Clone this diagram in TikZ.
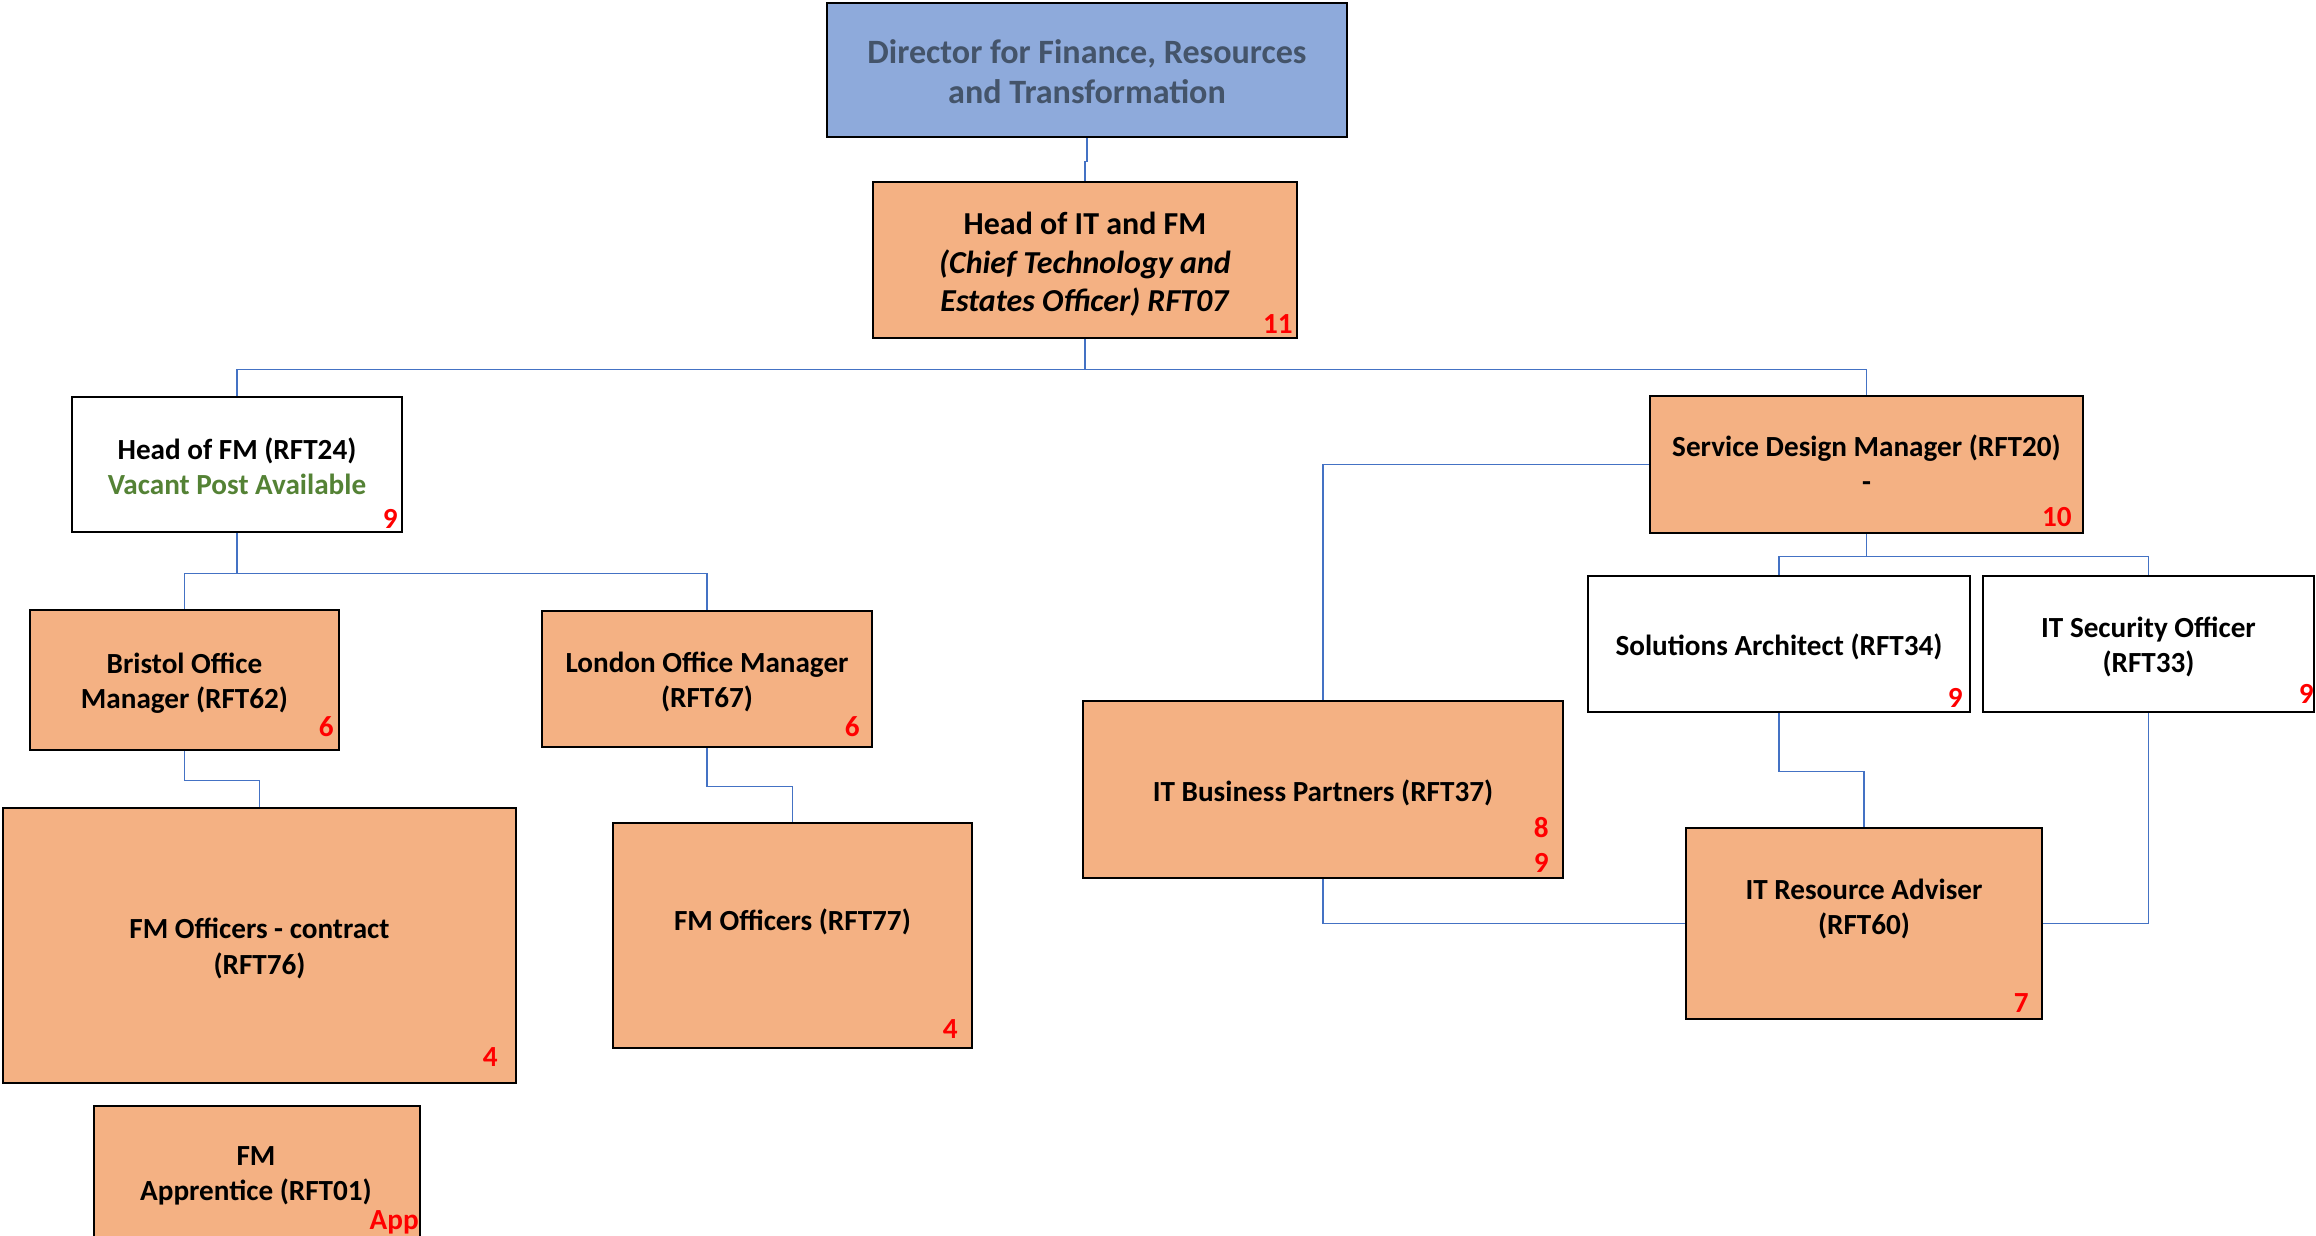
\documentclass[tikz,border=0pt]{standalone}
\usepackage{fontspec}
\setmainfont{Carlito}
\definecolor{postfill}{HTML}{F4B183}
\definecolor{dirfill}{HTML}{8EAADB}
\definecolor{dirtext}{HTML}{44546A}
\definecolor{vacgreen}{HTML}{548235}
\definecolor{linkblue}{HTML}{4472C4}
\newcommand{\postfont}{\fontsize{8.3}{10}\selectfont\bfseries}
\newcommand{\headfont}{\fontsize{9.1}{11}\selectfont\bfseries}
\newcommand{\dirfont}{\fontsize{9.7}{11.4}\selectfont\bfseries}
\begin{document}
\begin{tikzpicture}[x=1cm, y=-1cm,
  post/.style={draw, line width=0.8pt, fill=postfill, inner sep=0pt},
  vacant/.style={post, fill=white},
  posttext/.style={font=\postfont, align=center, inner sep=0pt},
  grade/.style={anchor=south east, text=red, font=\postfont, align=right, inner sep=0pt},
  link/.style={draw=linkblue, line width=0.45pt}]
\useasboundingbox (0,0) rectangle (23.16,12.36);
\clip (0,0) rectangle (23.16,12.36);

\node[post, fill=dirfill, minimum width=5.20cm, minimum height=1.34cm] (dir) at (10.87,0.70) {};
\node[posttext, text=dirtext, font=\dirfont] (dir-t) at (10.87,0.72) {Director for Finance, Resources\\and Transformation};
\node[post, minimum width=4.24cm, minimum height=1.56cm] (headit) at (10.85,2.60) {};
\node[posttext, font=\headfont] (headit-t) at (10.85,2.645) {Head of IT and FM\\\textit{(Chief Technology and}\\\textit{Estates Officer) RFT07}};
\node[grade] (headit-g) at ([shift={(-0.05,-0.05)}]headit.south east) {11};

\node[vacant, minimum width=3.30cm, minimum height=1.35cm] (headfm) at (2.37,4.645) {};
\node[posttext] (headfm-t) at (2.37,4.66) {Head of FM (RFT24)\\{\color{vacgreen}Vacant Post Available}};
\node[grade] (headfm-g) at ([shift={(-0.05,-0.04)}]headfm.south east) {9};
\node[post, minimum width=3.09cm, minimum height=1.40cm] (bristol) at (1.845,6.80) {};
\node[posttext] (bristol-t) at (1.845,6.83) {Bristol Office\\Manager (RFT62)};
\node[grade] (bristol-g) at ([shift={(-0.06,-0.14)}]bristol.south east) {6};
\node[post, minimum width=3.30cm, minimum height=1.36cm] (london) at (7.07,6.79) {};
\node[posttext] (london-t) at (7.07,6.82) {London Office Manager\\(RFT67)};
\node[grade] (london-g) at ([shift={(-0.13,-0.11)}]london.south east) {6};
\node[post, minimum width=5.13cm, minimum height=2.75cm] (contract) at (2.595,9.455) {};
\node[posttext] (contract-t) at (2.595,9.485) {FM Officers - contract\\(RFT76)};
\node[grade] (contract-g) at ([shift={(-0.19,-0.17)}]contract.south east) {4};
\node[post, minimum width=3.59cm, minimum height=2.25cm] (rft77) at (7.925,9.355) {};
\node[posttext] (rft77-t) at (7.925,9.215) {FM Officers (RFT77)};
\node[grade] (rft77-g) at ([shift={(-0.15,-0.10)}]rft77.south east) {4};
\node[post, minimum width=3.26cm, minimum height=1.44cm] (app) at (2.57,11.78) {};
\node[posttext] (app-t) at (2.56,11.755) {FM\\Apprentice (RFT01)};
\node[grade] (app-g) at ([shift={(-0.02,-0.17)}]app.south east) {App};

\node[post, minimum width=4.33cm, minimum height=1.37cm] (sdm) at (18.665,4.645) {};
\node[posttext] (sdm-t) at (18.665,4.63) {Service Design Manager (RFT20)\\-};
\node[grade] (sdm-g) at ([shift={(-0.12,-0.07)}]sdm.south east) {10};
\node[vacant, minimum width=3.82cm, minimum height=1.36cm] (solarch) at (17.79,6.44) {};
\node[posttext] (solarch-t) at (17.79,6.47) {Solutions Architect (RFT34)};
\node[grade] (solarch-g) at ([shift={(-0.08,-0.05)}]solarch.south east) {9};
\node[vacant, minimum width=3.31cm, minimum height=1.36cm] (itsec) at (21.485,6.44) {};
\node[posttext] (itsec-t) at (21.485,6.47) {IT Security Officer\\(RFT33)};
\node[grade] (itsec-g) at ([shift={(-0.01,-0.09)}]itsec.south east) {9};
\node[post, minimum width=4.80cm, minimum height=1.77cm] (itbp) at (13.23,7.895) {};
\node[posttext] (itbp-t) at (13.23,7.925) {IT Business Partners (RFT37)};
\node[grade] (itbp-g) at ([shift={(-0.15,-0.06)}]itbp.south east) {8\\9};
\node[post, minimum width=3.56cm, minimum height=1.91cm] (itra) at (18.64,9.235) {};
\node[posttext] (itra-t) at (18.64,9.09) {IT Resource Adviser\\(RFT60)};
\node[grade] (itra-g) at ([shift={(-0.14,-0.07)}]itra.south east) {7};

\draw[link] (dir.south) -- ++(0,0.23) -| (headit.north);
\draw[link] (headit.south) -- ++(0,0.30) -| (headfm.north);
\draw[link] (headit.south) -- ++(0,0.30) -| (sdm.north);
\draw[link] (headfm.south) -- ++(0,0.40) -| (bristol.north);
\draw[link] (headfm.south) -- ++(0,0.40) -| (london.north);
\draw[link] (bristol.south) -- ++(0,0.29) -| (contract.north);
\draw[link] (london.south) -- ++(0,0.38) -| (rft77.north);
\draw[link] (sdm.west) -| (itbp.north);
\draw[link] (sdm.south) -- ++(0,0.22) -| (solarch.north);
\draw[link] (sdm.south) -- ++(0,0.22) -| (itsec.north);
\draw[link] (solarch.south) -- ++(0,0.58) -| (itra.north);
\draw[link] (itsec.south) |- (itra.east);
\draw[link] (itbp.south) |- (itra.west);
\end{tikzpicture}
\end{document}
